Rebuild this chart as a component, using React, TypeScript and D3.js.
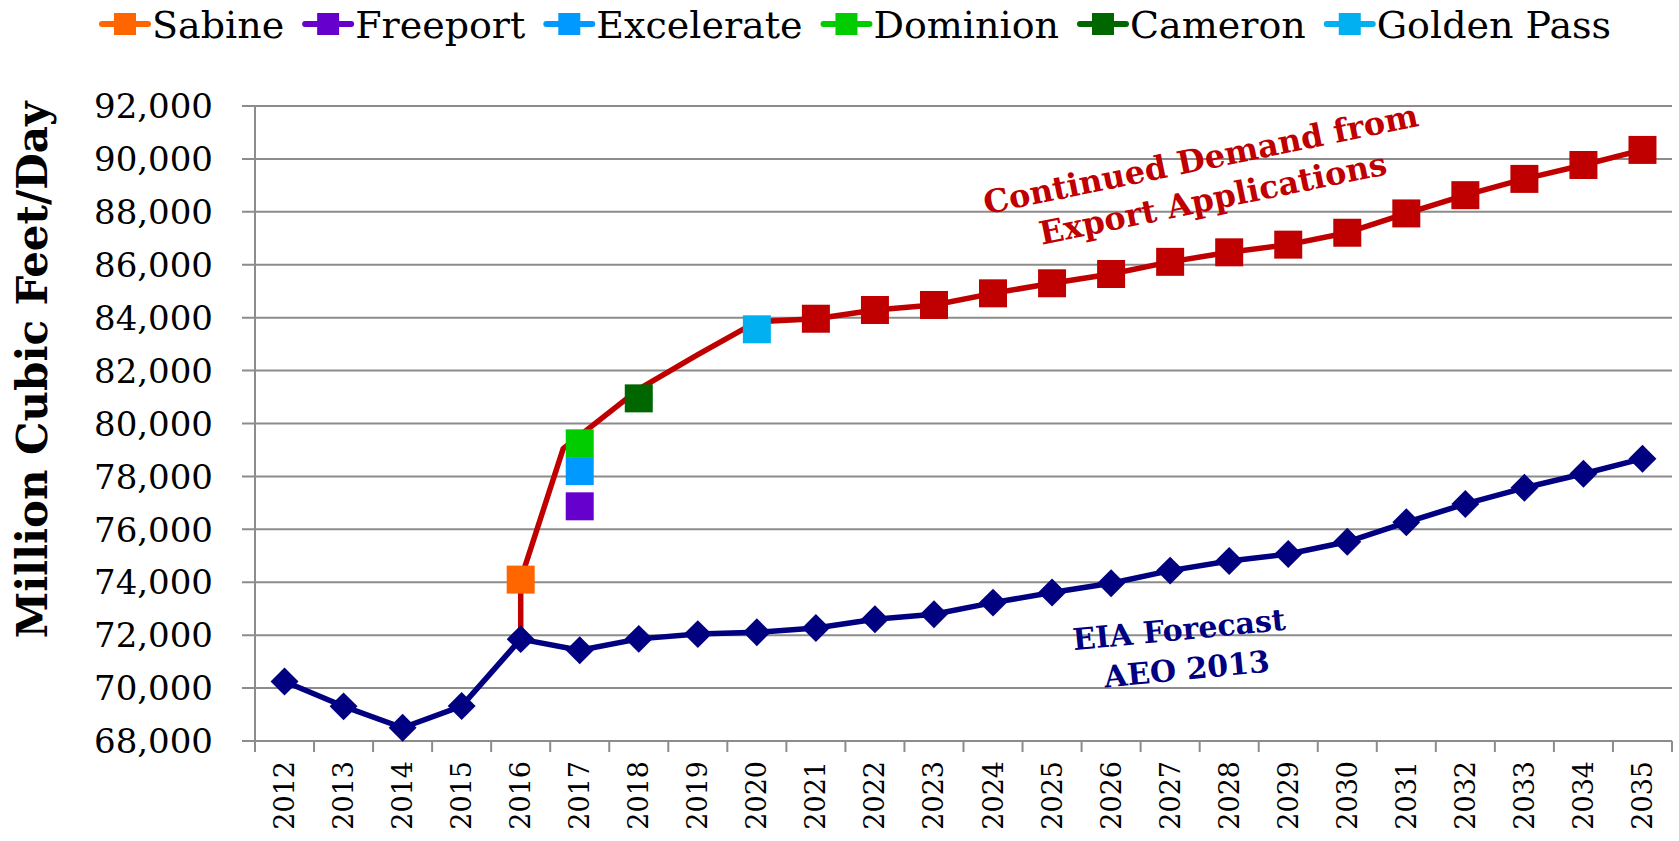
import React, { useEffect, useRef } from 'react';
import * as d3 from 'd3';

// categories
const years = [
	2012, 2013, 2014, 2015, 2016, 2017, 2018, 2019, 2020, 2021, 2022, 2023,
	2024, 2025, 2026, 2027, 2028, 2029, 2030, 2031, 2032, 2033, 2034, 2035,
];

// EIA forecast (AEO 2013)
const eiaForecast = [
	70250, 69310, 68500, 69320, 71850, 71430, 71860, 72040, 72110, 72270, 72600, 72790,
	73230, 73610, 73960, 74440, 74800, 75070, 75530, 76265, 76960, 77570, 78100, 78670,
];

// continued demand from export applications (line)
const demandYears = [
	2016, 2016, 2016.72, 2018, 2019, 2020, 2021, 2022, 2023, 2024, 2025, 2026,
	2027, 2028, 2029, 2030, 2031, 2032, 2033, 2034, 2035,
];
const demandValues = [
	71850, 74100, 79050, 81300, 82600, 83850, 83960, 84290, 84480, 84920, 85300, 85650,
	86110, 86470, 86760, 87210, 87940, 88630, 89245, 89770, 90340,
];
const demandMarkerStart = 2021;

// export projects
const projects = ['Sabine', 'Freeport', 'Excelerate', 'Dominion', 'Cameron', 'Golden Pass'];
const projectYears = [2016, 2017, 2017, 2017, 2018, 2020];
const projectValues = [74100, 76870, 78200, 79250, 80950, 83560];
const projectColors = ['#ff6600', '#6600cc', '#0099ff', '#00cc00', '#006600', '#00b0f0'];

const yTicks = [68000, 70000, 72000, 74000, 76000, 78000, 80000, 82000, 84000, 86000, 88000, 90000, 92000];

function App() {
	const chart = useRef(null);

	const drawChart = () => {
		// Measurements
		const width = 1679;
		const height = 841;
		const margin = { top: 106, right: 7, bottom: 100, left: 255 };
		const font = "'DejaVu Serif', serif";
		const gridColor = '#8c8c8c';
		const red = '#c00000';
		const navy = '#000080';

		const svg = d3.select(chart.current);
		svg.selectAll('*').remove();

		// Scales
		const xscale = d3
			.scaleLinear()
			.domain([years[0] - 0.5, years[years.length - 1] + 0.5])
			.range([margin.left, width - margin.right]);

		const yscale = d3
			.scaleLinear()
			.domain([68000, 92000])
			.range([height - margin.bottom, margin.top]);

		const plotBottom = height - margin.bottom;

		// Gridlines + y tick labels
		svg
			.append('g')
			.selectAll('line')
			.data(yTicks)
			.join('line')
			.attr('x1', margin.left - 13)
			.attr('x2', width - margin.right)
			.attr('y1', (d) => yscale(d))
			.attr('y2', (d) => yscale(d))
			.attr('stroke', gridColor)
			.attr('stroke-width', 2);

		svg
			.append('g')
			.selectAll('text')
			.data(yTicks)
			.join('text')
			.attr('x', 213)
			.attr('y', (d) => yscale(d))
			.attr('dy', '0.36em')
			.attr('text-anchor', 'end')
			.style('font-family', font)
			.style('font-size', '34px')
			.text((d) => d3.format(',')(d));

		// Axis lines
		svg
			.append('line')
			.attr('x1', margin.left)
			.attr('x2', margin.left)
			.attr('y1', yscale(92000))
			.attr('y2', plotBottom + 11)
			.attr('stroke', gridColor)
			.attr('stroke-width', 2);

		const bounds = years.map((d) => d + 0.5);
		svg
			.append('g')
			.selectAll('line')
			.data(bounds)
			.join('line')
			.attr('x1', (d) => xscale(d))
			.attr('x2', (d) => xscale(d))
			.attr('y1', plotBottom)
			.attr('y2', plotBottom + 11)
			.attr('stroke', gridColor)
			.attr('stroke-width', 2);

		// x labels
		svg
			.append('g')
			.selectAll('text')
			.data(years)
			.join('text')
			.attr('transform', (d) => `translate(${xscale(d) + 9.5}, ${plotBottom + 20}) rotate(-90)`)
			.attr('text-anchor', 'end')
			.style('font-family', font)
			.style('font-size', '27px')
			.text((d) => d);

		// y axis title
		svg
			.append('text')
			.attr('transform', `translate(${47}, ${370}) rotate(-90)`)
			.attr('text-anchor', 'middle')
			.style('font-family', font)
			.style('font-weight', 'bold')
			.style('font-size', '42px')
			.text('Million Cubic Feet/Day');

		// Lines
		const line = d3
			.line()
			.x((d) => xscale(d[0]))
			.y((d) => yscale(d[1]));

		const demandPts = demandYears.map((d, i) => [d, demandValues[i]]);
		svg
			.append('path')
			.attr('d', line(demandPts))
			.attr('fill', 'none')
			.attr('stroke', red)
			.attr('stroke-width', 5.5)
			.attr('stroke-linejoin', 'round');

		const eiaPts = years.map((d, i) => [d, eiaForecast[i]]);
		svg
			.append('path')
			.attr('d', line(eiaPts))
			.attr('fill', 'none')
			.attr('stroke', navy)
			.attr('stroke-width', 5.5)
			.attr('stroke-linejoin', 'round');

		// Markers
		const diamond = d3.symbol(d3.symbolSquare, 390)();
		svg
			.append('g')
			.selectAll('path')
			.data(eiaPts)
			.join('path')
			.attr('d', diamond)
			.attr('transform', (d) => `translate(${xscale(d[0])}, ${yscale(d[1])}) rotate(45)`)
			.attr('fill', navy);

		const square = d3.symbol(d3.symbolSquare, 784)();
		svg
			.append('g')
			.selectAll('path')
			.data(demandPts.filter((d) => d[0] >= demandMarkerStart))
			.join('path')
			.attr('d', square)
			.attr('transform', (d) => `translate(${xscale(d[0])}, ${yscale(d[1])})`)
			.attr('fill', red);

		svg
			.append('g')
			.selectAll('path')
			.data(projects)
			.join('path')
			.attr('d', square)
			.attr('transform', (d, i) => `translate(${xscale(projectYears[i])}, ${yscale(projectValues[i])})`)
			.attr('fill', (d, i) => projectColors[i]);

		// Annotations
		const demandNote = svg
			.append('text')
			.attr('transform', `translate(${1203}, ${170}) rotate(-11.5)`)
			.attr('text-anchor', 'middle')
			.style('font-family', font)
			.style('font-weight', 'bold')
			.style('font-size', '32px')
			.attr('fill', red);
		demandNote.append('tspan').attr('x', 0).attr('y', 0).text('Continued Demand from');
		demandNote.append('tspan').attr('x', 4).attr('y', 41).text('Export Applications');

		const eiaNote = svg
			.append('text')
			.attr('transform', `translate(${1180}, ${640}) rotate(-5.5)`)
			.attr('text-anchor', 'middle')
			.style('font-family', font)
			.style('font-weight', 'bold')
			.style('font-size', '30px')
			.attr('fill', navy);
		eiaNote.append('tspan').attr('x', 0).attr('y', 0).text('EIA Forecast');
		eiaNote.append('tspan').attr('x', 4).attr('y', 40).text('AEO 2013');

		// Legend
		const legend = svg.append('g').attr('transform', 'translate(0, 24)');
		let lx = 100;
		projects.forEach((name, i) => {
			const item = legend.append('g').attr('transform', `translate(${lx}, 0)`);
			item
				.append('line')
				.attr('x1', 2)
				.attr('x2', 48)
				.attr('stroke', projectColors[i])
				.attr('stroke-width', 6)
				.attr('stroke-linecap', 'round');
			item
				.append('rect')
				.attr('x', 14)
				.attr('y', -11)
				.attr('width', 22)
				.attr('height', 22)
				.attr('fill', projectColors[i]);
			const t = item
				.append('text')
				.attr('x', 52)
				.attr('dy', '0.36em')
				.style('font-family', font)
				.style('font-size', '38px')
				.text(name);
			const w = t.node().getComputedTextLength();
			lx += 52 + w + 19;
		});
	};

	useEffect(() => {
		drawChart();
	}, []);

	return (
		<svg
			ref={chart}
			width={1679}
			height={841}
			style={{ position: 'absolute', left: 0, top: 0, background: '#fff' }}
		></svg>
	);
}

export default App;
